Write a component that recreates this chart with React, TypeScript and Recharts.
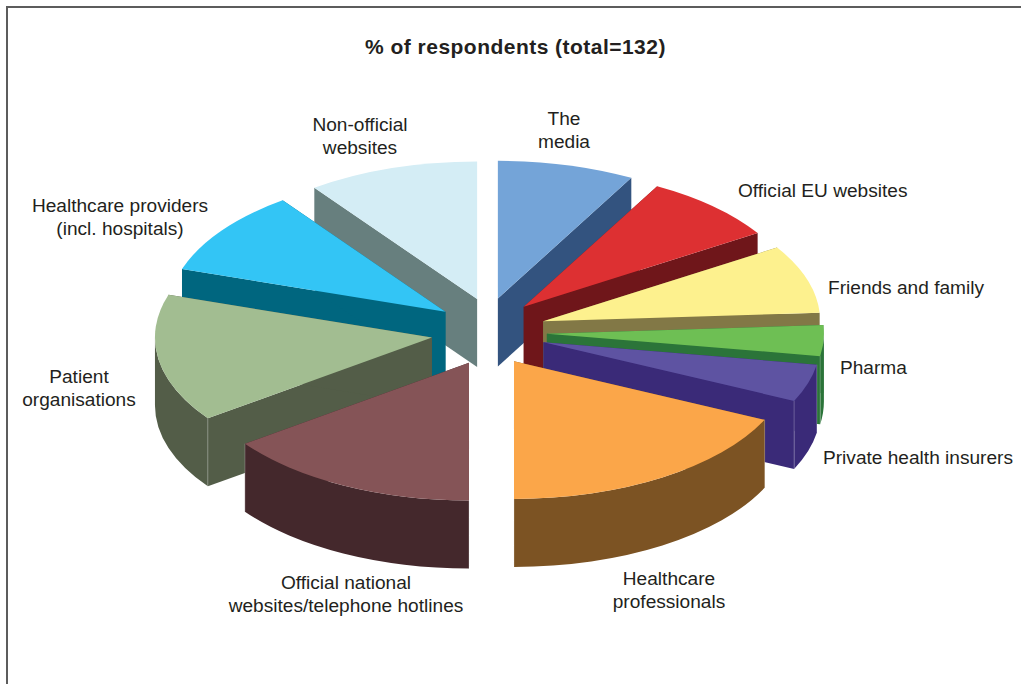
import React from "react";
import { PieChart, Pie } from "recharts";

const categories = [
  "The media",
  "Official EU websites",
  "Friends and family",
  "Pharma",
  "Private health insurers",
  "Healthcare professionals",
  "Official national websites/telephone hotlines",
  "Patient organisations",
  "Healthcare providers (incl. hospitals)",
  "Non-official websites",
];
const percentages = [8, 8, 8, 3.6, 4.4, 18, 15, 15, 10, 10];
const topColors = ["#74a4d8", "#dd3032", "#fdf18e", "#6ebf54", "#5e53a2", "#fba649", "#855457", "#a2bd91", "#33c5f5", "#d4edf5"];
const wallColors = ["#33537f", "#6f161a", "#827846", "#2b7439", "#3a2a78", "#7c5323", "#44282c", "#535d48", "#00667f", "#677f7e"];

// back-to-front, so nearer slices cover the walls of the ones behind them
const paintOrder = [0, 9, 1, 8, 2, 7, 3, 4, 6, 5];

const rows = categories.map((label, i) => ({ label, value: percentages[i], index: i }));

const TILT = 0.497;
const DEPTH = 68;
const EXPLODE_X = 58;
const EXPLODE_Y = 34.6;
const FONT = '"Liberation Sans", Arial, sans-serif';
const INK = "#231f20";

const rad = (deg: number) => (deg * Math.PI) / 180;

// one slice of the tilted pie: side walls first, then the top face
const Wedge = (props: any) => {
  const { cx, cy, outerRadius, startAngle, endAngle, payload } = props;
  const mid = rad((startAngle + endAngle) / 2);
  const sideways = Math.sign(Math.cos(mid)) * Math.pow(Math.abs(Math.cos(mid)), 1.35);
  const ax = cx + sideways * EXPLODE_X;
  const ay = cy - Math.sin(mid) * EXPLODE_Y;
  const rx = outerRadius;
  const ry = outerRadius * TILT;
  const pt = (deg: number, drop = 0) => [ax + rx * Math.cos(rad(deg)), ay - ry * Math.sin(rad(deg)) + drop];
  const top = topColors[payload.index];
  const wall = wallColors[payload.index];

  const [sx, sy] = pt(startAngle);
  const [ex, ey] = pt(endAngle);
  const arc = (x: number, y: number, sweep: number) => `A${rx} ${ry} 0 ${Math.abs(startAngle - endAngle) > 180 ? 1 : 0} ${sweep} ${x} ${y}`;
  const face = `M${ax} ${ay}L${sx} ${sy}${arc(ex, ey, 1)}Z`;
  const radial = (x: number, y: number) => `M${ax} ${ay}L${x} ${y}L${x} ${y + DEPTH}L${ax} ${ay + DEPTH}Z`;

  // the rim only shows on the front half of the ellipse
  const from = Math.min(startAngle, 0);
  const to = Math.max(endAngle, -180);
  let rim = null;
  if (from > to) {
    const [fx, fy] = pt(from);
    const [tx, ty] = pt(to);
    rim = (
      <>
        <path d={`M${fx} ${fy}A${rx} ${ry} 0 0 1 ${tx} ${ty}L${tx} ${ty + DEPTH}A${rx} ${ry} 0 0 0 ${fx} ${fy + DEPTH}Z`} fill={wall} />
        {startAngle < 0 && <line x1={fx} y1={fy} x2={fx} y2={fy + DEPTH} stroke="#fff" strokeOpacity={0.25} />}
        {endAngle > -179 && <line x1={tx} y1={ty} x2={tx} y2={ty + DEPTH} stroke="#fff" strokeOpacity={0.25} />}
      </>
    );
  }

  return (
    <g>
      <path d={radial(sx, sy)} fill={wall} />
      <path d={radial(ex, ey)} fill={wall} />
      {rim}
      <path d={face} fill={top} />
    </g>
  );
};

const Caption = ({ x, y, lines, anchor = "middle" }: { x: number; y: number; lines: string[]; anchor?: "middle" | "start" }) => (
  <text x={x} y={y} textAnchor={anchor} fontFamily={FONT} fontSize={19.1} fill={INK}>
    {lines.map((line, i) => (
      <tspan key={line} x={x} dy={i === 0 ? 0 : 23}>
        {line}
      </tspan>
    ))}
  </text>
);

const App = () => {
  return (
    <div style={{ position: "fixed", left: 0, top: 0, width: 1021, height: 684, overflow: "hidden", background: "#fff" }}>
      <div style={{ position: "absolute", left: 6, top: 6, right: 0, bottom: 0, borderTop: "2px solid #5c5c5c", borderLeft: "2px solid #5c5c5c" }} />
      <div style={{ position: "absolute", left: 0, top: 0 }}>
        <PieChart width={1021} height={684} margin={{ top: 0, right: 0, bottom: 0, left: 0 }}>
          {paintOrder.map((idx) => (
            <Pie
              key={idx}
              data={rows}
              dataKey="value"
              nameKey="label"
              cx={489}
              cy={332}
              outerRadius={277}
              startAngle={90}
              endAngle={-270}
              stroke="none"
              isAnimationActive={false}
              shape={(p: any) => (p.payload.index === idx ? <Wedge {...p} /> : <g />)}
            />
          ))}
          <text x={515.5} y={54} textAnchor="middle" fontFamily={FONT} fontSize={21} fontWeight="bold" letterSpacing={0.47} fill={INK}>
            % of respondents (total=132)
          </text>
          <Caption x={564} y={125} lines={["The", "media"]} />
          <Caption x={360} y={131} lines={["Non-official", "websites"]} />
          <Caption x={738} y={197} lines={["Official EU websites"]} anchor="start" />
          <Caption x={828} y={294} lines={["Friends and family"]} anchor="start" />
          <Caption x={840} y={374} lines={["Pharma"]} anchor="start" />
          <Caption x={823} y={464} lines={["Private health insurers"]} anchor="start" />
          <Caption x={669} y={585} lines={["Healthcare", "professionals"]} />
          <Caption x={346} y={589} lines={["Official national", "websites/telephone hotlines"]} />
          <Caption x={79} y={383} lines={["Patient", "organisations"]} />
          <Caption x={120} y={212} lines={["Healthcare providers", "(incl. hospitals)"]} />
        </PieChart>
      </div>
    </div>
  );
};

export default App;
